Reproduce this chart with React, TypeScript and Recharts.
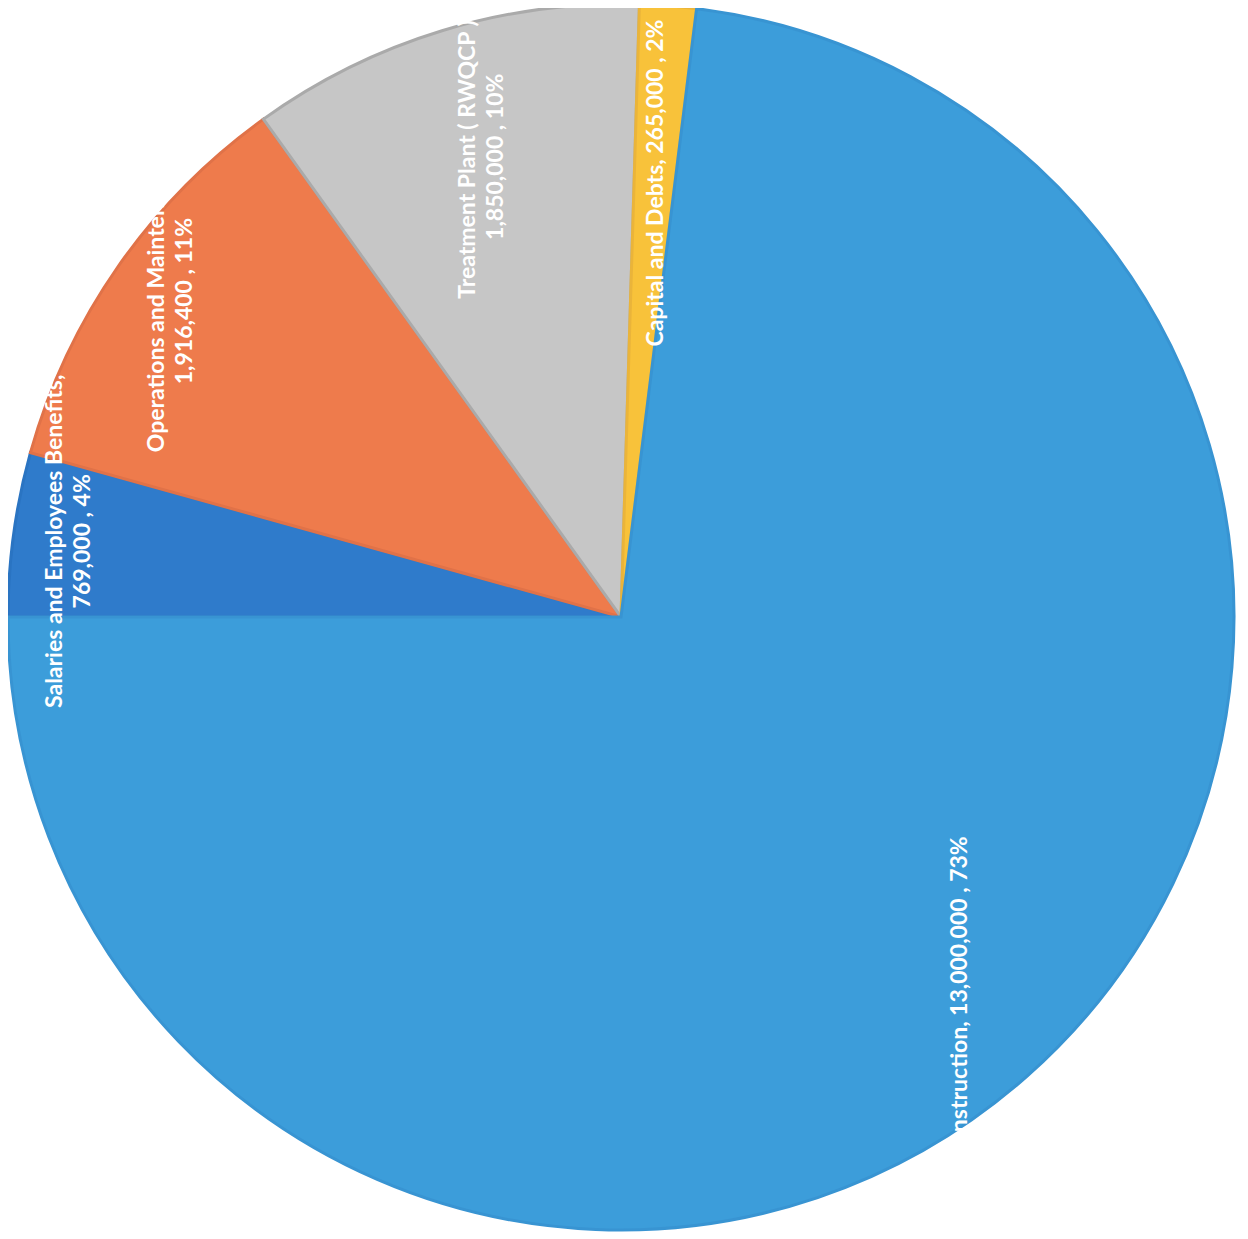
import React from "react";
import { PieChart, Pie, Cell } from "recharts";

const categories = [
  "Salaries and Employees Benefits",
  "Operations and Maintenance",
  "Treatment Plant ( RWQCP )",
  "Capital and Debts",
  "Construction",
];
const values = [769000, 1916400, 1850000, 265000, 13000000];
const percentLabels = ["4%", "11%", "10%", "2%", "73%"];
const valueLabels = ["769,000", "1,916,400", "1,850,000", "265,000", "13,000,000"];

const COLORS = ["#2f7bcb", "#ee7b4c", "#c6c6c6", "#f8c23a", "#3c9dda"];
const STROKES = ["#2a74c2", "#e07248", "#aaaaaa", "#eab43a", "#3894d2"];
// label placement: fraction of radius, and whether the label is split on two lines
const LABEL_RADIUS = [0.912, 0.9, 0.785, 0.71, 0.83];
const LABEL_TWO_LINES = [true, true, true, false, false];

const data = categories.map((name, i) => ({
  name,
  value: values[i],
  valueLabel: valueLabels[i],
  pct: percentLabels[i],
}));

const RAD = Math.PI / 180;

const renderLabel = (props: any) => {
  const { cx, cy, midAngle, outerRadius, index } = props;
  const r = outerRadius * LABEL_RADIUS[index];
  const x = cx + r * Math.cos(-midAngle * RAD);
  const y = cy + r * Math.sin(-midAngle * RAD);
  const d = data[index];
  const common = {
    fill: "#ffffff",
    fontFamily: "Lato, 'Open Sans', sans-serif",
    fontWeight: 700,
    fontSize: 23,
    textAnchor: "middle" as const,
    dominantBaseline: "central" as const,
  };
  if (LABEL_TWO_LINES[index]) {
    return (
      <g key={`lbl-${index}`} transform={`rotate(-90, ${x}, ${y})`}>
        <text x={x} y={y - 14} {...common}>{`${d.name},`}</text>
        <text x={x} y={y + 14} {...common}>{`${d.valueLabel} , ${d.pct}`}</text>
      </g>
    );
  }
  return (
    <g key={`lbl-${index}`} transform={`rotate(-90, ${x}, ${y})`}>
      <text x={x} y={y} {...common}>{`${d.name},  ${d.valueLabel} , ${d.pct}`}</text>
    </g>
  );
};

export default function App() {
  return (
    <div style={{ width: 1232, height: 1231, background: "#ffffff" }}>
      <PieChart width={1232} height={1231} margin={{ top: 0, right: 0, bottom: 0, left: 0 }}>
        <Pie
          data={data}
          dataKey="value"
          nameKey="name"
          cx={613}
          cy={609}
          outerRadius={613}
          startAngle={180}
          endAngle={-180}
          label={renderLabel}
          labelLine={false}
          isAnimationActive={false}
        >
          {data.map((_, i) => (
            <Cell key={i} fill={COLORS[i]} stroke={STROKES[i]} strokeWidth={3} />
          ))}
        </Pie>
      </PieChart>
    </div>
  );
}
